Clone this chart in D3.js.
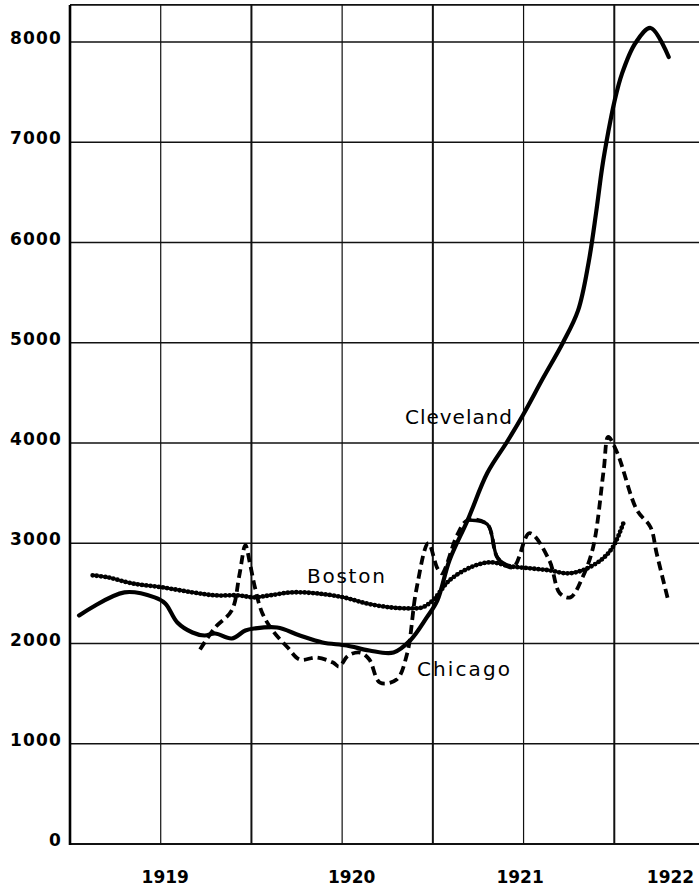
<!DOCTYPE html>
<html>
<head>
<meta charset="utf-8">
<script src="https://cdn.jsdelivr.net/npm/d3@7"></script>
<style>
  body { margin: 0; background: #fff; }
  svg { display: block; }
  .axis text { font-family: 'DejaVu Sans', sans-serif; font-weight: bold; font-size: 17px; fill: #000; }
  .series-label { font-family: 'DejaVu Sans', sans-serif; font-size: 20px; fill: #000; }
</style>
</head>
<body>
<svg id="chart"></svg>
<script>
// x = months counted from January 1918, y = value
var cleveland = [
  [6.6, 2280], [9.6, 2510], [11.6, 2460], [12.3, 2400], [13.1, 2210], [14.1, 2110],
  [14.9, 2080], [15.6, 2100], [16.7, 2050], [17.6, 2130], [18.2, 2150], [19.7, 2160],
  [21.2, 2080], [22.7, 2010], [24.3, 1980], [25.8, 1930], [27.4, 1910], [28.5, 2030],
  [29.6, 2260], [30.3, 2430], [31.1, 2830], [32.3, 3230], [33.6, 3700], [34.9, 4010],
  [36.0, 4290], [37.3, 4650], [38.6, 5000], [39.6, 5320], [40.3, 5800], [40.8, 6300],
  [41.2, 6750], [41.6, 7100], [42.0, 7400], [42.5, 7680], [43.4, 7990], [44.4, 8140],
  [45.6, 7850]
];
var boston = [
  [7.5, 2680], [8.5, 2660], [10.1, 2600], [12.1, 2560], [14.1, 2510], [15.6, 2480],
  [17.1, 2480], [18.2, 2460], [19.2, 2480], [20.7, 2510], [22.3, 2500], [24.1, 2460],
  [25.6, 2400], [27.2, 2360], [28.5, 2350], [29.3, 2360], [30.0, 2430], [31.1, 2630],
  [32.5, 2760], [33.8, 2810], [35.1, 2770], [36.4, 2750], [37.7, 2730], [38.9, 2700],
  [39.9, 2730], [41.1, 2830], [41.9, 2960], [42.6, 3200]
];
var chicago = [
  [14.6, 1940], [15.6, 2160], [16.7, 2330], [17.2, 2680], [17.6, 2980], [17.9, 2800],
  [18.2, 2580], [18.7, 2310], [19.4, 2130], [20.4, 1960], [21.2, 1840], [22.3, 1860],
  [23.4, 1810], [23.8, 1770], [24.4, 1880], [25.2, 1910], [25.8, 1840], [26.5, 1610],
  [27.6, 1640], [28.3, 1900], [28.9, 2530], [29.7, 3000], [30.3, 2750], [30.6, 2700],
  [31.6, 3080], [32.3, 3230], [33.6, 3190], [34.3, 2850], [35.3, 2760], [36.4, 3100],
  [37.7, 2830], [38.4, 2500], [39.1, 2460], [39.9, 2660], [40.6, 2960], [41.3, 3730],
  [41.6, 4060], [42.2, 3900], [43.5, 3330], [44.4, 3160], [44.8, 2900], [45.6, 2410]
];
// stretch of the Chicago line that is drawn solid in the original
var chicagoSolidRange = [32.3, 35.3];
var yearTicks = [12, 24, 36, 48];
var yearLabels = ['1919', '1920', '1921', '1922'];
var gridMonths = [12, 18, 24, 30, 36, 42, 48];
var valueTicks = [0, 1000, 2000, 3000, 4000, 5000, 6000, 7000, 8000];

document.addEventListener('DOMContentLoaded', () => {
  var width = 699;
  var height = 886;

  var x = d3.scaleLinear().domain([6, 48]).range([70, 705]);
  var y = d3.scaleLinear().domain([0, 8000]).range([844, 42]);
  var top = y(8370);

  var svg = d3.select('#chart')
    .attr('width', width)
    .attr('height', height);

  // horizontal grid
  svg.append('g')
    .selectAll('line')
    .data(valueTicks)
    .enter().append('line')
      .attr('x1', x(6)).attr('x2', width)
      .attr('y1', d => y(d)).attr('y2', d => y(d))
      .attr('stroke', '#111')
      .attr('stroke-width', d => d === 0 ? 2 : 1.4);

  // vertical grid, mid-year lines a bit heavier
  svg.append('g')
    .selectAll('line')
    .data(gridMonths)
    .enter().append('line')
      .attr('x1', d => x(d)).attr('x2', d => x(d))
      .attr('y1', top).attr('y2', y(0))
      .attr('stroke', '#111')
      .attr('stroke-width', d => d % 12 === 6 ? 2 : 1.2);

  // frame
  svg.append('line')
    .attr('x1', x(6)).attr('x2', width)
    .attr('y1', top).attr('y2', top)
    .attr('stroke', '#111').attr('stroke-width', 1.6);
  svg.append('line')
    .attr('x1', x(6)).attr('x2', x(6))
    .attr('y1', top).attr('y2', y(0) + 1)
    .attr('stroke', '#000').attr('stroke-width', 2.6);

  // y labels
  var yAxis = d3.axisLeft(y).tickValues(valueTicks).tickSize(0).tickPadding(0)
    .tickFormat(d3.format('d'));
  var gy = svg.append('g')
    .attr('class', 'axis')
    .attr('transform', 'translate(62, 0)')
    .call(yAxis);
  gy.select('.domain').remove();
  gy.selectAll('text').attr('dy', '0.1em').attr('letter-spacing', 1.2);

  // x labels
  var xAxis = d3.axisBottom(x).tickValues(yearTicks).tickSize(0).tickPadding(0)
    .tickFormat((d, i) => yearLabels[i]);
  var gx = svg.append('g')
    .attr('class', 'axis')
    .attr('transform', 'translate(0, 883)')
    .call(xAxis);
  gx.select('.domain').remove();
  gx.selectAll('text')
    .attr('dy', 0)
    .attr('dx', (d, i) => i === yearTicks.length - 1 ? -35 : [4, 9, -4][i]);

  var line = d3.line()
    .x(d => x(d[0]))
    .y(d => y(d[1]))
    .curve(d3.curveCatmullRom.alpha(0.5));

  // Chicago dashed
  svg.append('path')
    .datum(chicago)
    .attr('d', line)
    .attr('fill', 'none')
    .attr('stroke', '#000')
    .attr('stroke-width', 3.8)
    .attr('stroke-dasharray', '9 5');
  svg.append('path')
    .datum(chicago.filter(d => d[0] >= chicagoSolidRange[0] && d[0] <= chicagoSolidRange[1]))
    .attr('d', line)
    .attr('fill', 'none')
    .attr('stroke', '#000')
    .attr('stroke-width', 3.4);

  // Boston beaded
  svg.append('path')
    .datum(boston)
    .attr('d', line)
    .attr('fill', 'none')
    .attr('stroke', '#000')
    .attr('stroke-width', 2.6);
  svg.append('path')
    .datum(boston)
    .attr('d', line)
    .attr('fill', 'none')
    .attr('stroke', '#000')
    .attr('stroke-width', 4.8)
    .attr('stroke-linecap', 'round')
    .attr('stroke-dasharray', '0 4.2');

  // Cleveland solid
  svg.append('path')
    .datum(cleveland)
    .attr('d', line)
    .attr('fill', 'none')
    .attr('stroke', '#000')
    .attr('stroke-width', 4.2)
    .attr('stroke-linejoin', 'round')
    .attr('stroke-linecap', 'round');

  // series labels
  var labels = [
    { text: 'Cleveland', m: 28.16, v: 4190, len: 107 },
    { text: 'Boston', m: 21.67, v: 2600, len: 78 },
    { text: 'Chicago', m: 28.95, v: 1680, len: 93 }
  ];
  svg.selectAll('.series-label')
    .data(labels)
    .enter().append('text')
      .attr('class', 'series-label')
      .attr('x', d => x(d.m))
      .attr('y', d => y(d.v))
      .attr('textLength', d => d.len)
      .attr('lengthAdjust', 'spacing')
      .text(d => d.text);
});
</script>
</body>
</html>
